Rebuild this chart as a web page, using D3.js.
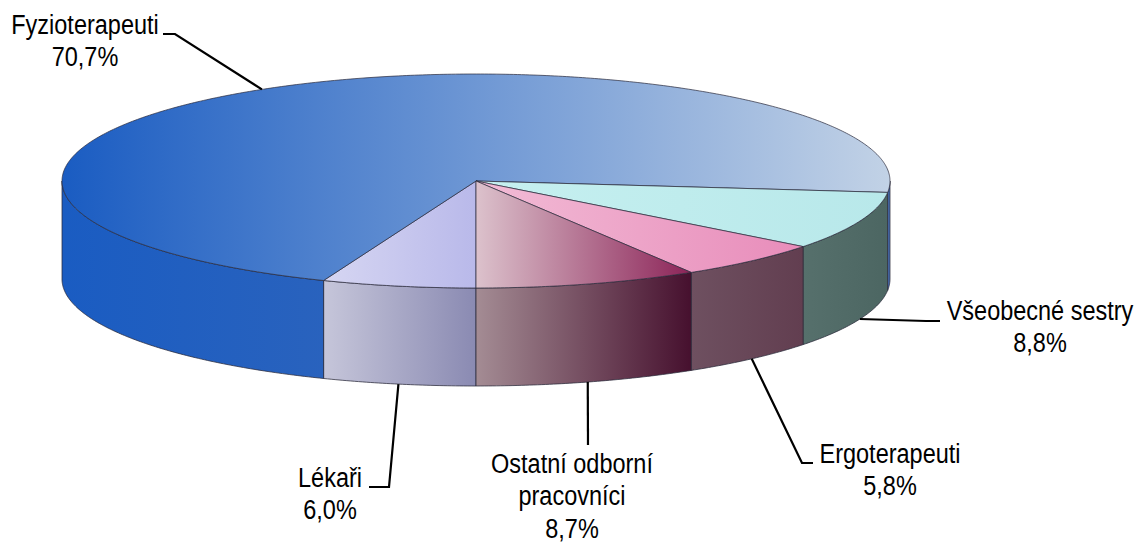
<!DOCTYPE html>
<html>
<head>
<meta charset="utf-8">
<script src="https://cdn.jsdelivr.net/npm/d3@7"></script>
<style>
  body { margin: 0; background: #fff; }
  text { font-family: "Liberation Sans", Arial, sans-serif; font-size: 27px; fill: #000; }
</style>
</head>
<body>
<script>
// slices in drawing order, starting at 6 o'clock going clockwise
var categories = ["Lékaři", "Fyzioterapeuti", "Všeobecné sestry", "Ergoterapeuti", "Ostatní odborní pracovníci"];
var values = [6.0, 70.7, 8.8, 5.8, 8.7];
var valueLabels = ["6,0%", "70,7%", "8,8%", "5,8%", "8,7%"];

var screen = {width: 1139, height: 543}
var cx = 476, cy = 181, rx = 414, ry = 107, depth = 98;
var narrow = 0.87; // squeeze text to look like Arial Narrow

// colours: top face gradient [left, right], side gradient [left, right]
var styles = [
  {top: ["#d6d6f2", "#b9b9ea"], side: ["#c6c6da", "#8a8ab2"]},
  {top: ["#1a5cc2", "#c2d2e6"], side: ["#1a5cc2", "#4a70b4"]},
  {top: ["#c6f0f0", "#b8e8ea"], side: ["#56706c", "#4c6662"]},
  {top: ["#f2bcd6", "#e88cba"], side: ["#6e5060", "#623e50"]},
  {top: ["#dcc2cc", "#8c2458"], side: ["#a48c94", "#46102e"]}
];

// label layout: elbow, end of leader, text centre and first baseline
var labelLayout = [
  {elbow: [389, 487], end: [369, 487], tx: 330, ty: 487},
  {elbow: [175, 34], end: [163, 34], tx: 85, ty: 34},
  {elbow: [926, 321], end: [940, 321], tx: 1040, ty: 320},
  {elbow: [802, 463], end: [813, 463], tx: 890, ty: 463},
  {elbow: null, end: [588, 445], tx: 572, ty: 473}
];

var pie = d3.pie().sort(null).startAngle(-Math.PI).endAngle(Math.PI);
var arcs = pie(values);

var pt = function(a, dy) {
  return [cx + rx * Math.sin(a), cy - ry * Math.cos(a) + (dy || 0)];
}

var arcPoints = function(a0, a1, dy) {
  var n = Math.max(2, Math.ceil(Math.abs(a1 - a0) / 0.01));
  var pts = [];
  for (var i = 0; i <= n; i++) pts.push(pt(a0 + (a1 - a0) * i / n, dy));
  return pts;
}

var line = d3.line();

var svg = d3.select("body")
            .append("svg")
            .attr("width", screen.width)
            .attr("height", screen.height);

var defs = svg.append("defs");

styles.forEach(function(s, i) {
  ["top", "side"].forEach(function(k) {
    // gradient spans the slice's horizontal extent
    var d = arcs[i];
    var xs = arcPoints(d.startAngle, d.endAngle, 0).map(function(p) { return p[0]; });
    if (k == "top") xs.push(cx);
    var g = defs.append("linearGradient")
                .attr("id", "g" + k + i)
                .attr("gradientUnits", "userSpaceOnUse")
                .attr("x1", d3.min(xs)).attr("x2", d3.max(xs))
                .attr("y1", 0).attr("y2", 0);
    g.append("stop").attr("offset", 0).attr("stop-color", s[k][0]);
    g.append("stop").attr("offset", 1).attr("stop-color", s[k][1]);
  });
});

// side walls: only the front half (angles between 90 and 270 degrees) is visible
var sides = svg.append("g").attr("id", "sides");
arcs.forEach(function(d, i) {
  var ranges = [[Math.PI / 2, Math.PI], [-Math.PI, -Math.PI / 2]];
  ranges.forEach(function(r) {
    var a0 = Math.max(d.startAngle, r[0]), a1 = Math.min(d.endAngle, r[1]);
    if (a1 <= a0) return;
    var pts = arcPoints(a0, a1, 0).concat(arcPoints(a1, a0, depth));
    sides.append("path")
         .attr("d", line(pts) + "Z")
         .attr("fill", "url(#gside" + i + ")")
         .attr("stroke", "#2a2a3a")
         .attr("stroke-opacity", 0.75)
         .attr("stroke-width", 1)
         .attr("stroke-linejoin", "round");
  });
});

// top faces
var tops = svg.append("g").attr("id", "tops");
arcs.forEach(function(d, i) {
  var pts = [[cx, cy]].concat(arcPoints(d.startAngle, d.endAngle, 0));
  tops.append("path")
      .attr("d", line(pts) + "Z")
      .attr("fill", "url(#gtop" + i + ")")
      .attr("stroke", "#2a2a3a")
      .attr("stroke-opacity", 0.7)
      .attr("stroke-width", 1)
      .attr("stroke-linejoin", "round");
});

// leader lines and labels
var labels = svg.append("g").attr("id", "labels");
arcs.forEach(function(d, i) {
  var mid = (d.startAngle + d.endAngle) / 2;
  var start = Math.cos(mid) > 0 ? pt(mid, 0) : pt(mid, depth);
  var L = labelLayout[i];
  var pts = [start];
  if (L.elbow) pts.push(L.elbow);
  pts.push(L.end);
  labels.append("path")
        .attr("d", line(pts))
        .attr("fill", "none")
        .attr("stroke", "#000")
        .attr("stroke-width", 2.2);

  var lines = categories[i] == "Ostatní odborní pracovníci"
              ? ["Ostatní odborní", "pracovníci", valueLabels[i]]
              : [categories[i], valueLabels[i]];
  var t = labels.append("text")
                .attr("text-anchor", "middle")
                .attr("transform", "translate(" + L.tx + "," + L.ty + ") scale(" + narrow + ",1)");
  lines.forEach(function(s, j) {
    t.append("tspan")
     .attr("x", 0)
     .attr("y", j * 32.5)
     .text(s);
  });
});
</script>
</body>
</html>
